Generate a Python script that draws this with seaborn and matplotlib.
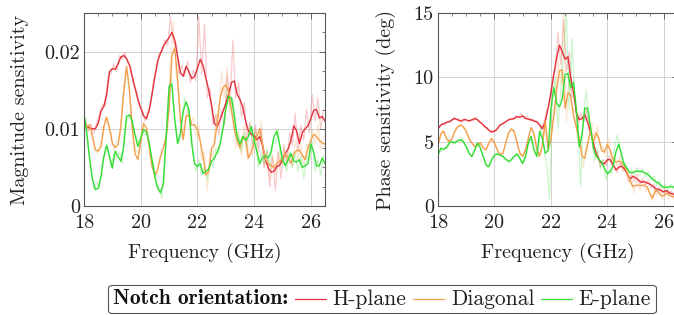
import numpy as np
import pandas as pd
import seaborn as sns
import matplotlib.pyplot as plt
from matplotlib.ticker import AutoMinorLocator
from matplotlib.offsetbox import AnchoredOffsetbox, HPacker, TextArea, DrawingArea
from matplotlib.lines import Line2D

# smoothed curves on a 0.1 GHz grid, raw traces on the offset grid
freq = np.round(np.arange(18.0, 26.55, 0.1), 2)
freq_raw = np.round(np.arange(18.05, 26.5, 0.1), 2)

orientations = ['H-plane', 'Diagonal', 'E-plane']
colors = ['#e3303a', '#f2a04c', '#33dd33']

mag_h = [0.0107, 0.0103, 0.0101, 0.0100, 0.0100, 0.0107, 0.0123, 0.0129, 0.0145, 0.0174,
         0.0178, 0.0177, 0.0184, 0.0193, 0.0195, 0.0191, 0.0183, 0.0168, 0.0153, 0.0138,
         0.0127, 0.0117, 0.0113, 0.0124, 0.0145, 0.0168, 0.0188, 0.0198, 0.0207, 0.0213,
         0.0218, 0.0225, 0.0215, 0.0194, 0.0173, 0.0168, 0.0181, 0.0174, 0.0165, 0.0168,
         0.0178, 0.0190, 0.0182, 0.0165, 0.0150, 0.0130, 0.0107, 0.0103, 0.0112, 0.0122,
         0.0133, 0.0145, 0.0160, 0.0162, 0.0145, 0.0138, 0.0128, 0.0110, 0.0097, 0.0093,
         0.0091, 0.0086, 0.0090, 0.0078, 0.0060, 0.0049, 0.0044, 0.0045, 0.0051, 0.0053,
         0.0060, 0.0068, 0.0074, 0.0085, 0.0104, 0.0097, 0.0081, 0.0095, 0.0100, 0.0104,
         0.0113, 0.0124, 0.0125, 0.0114, 0.0116, 0.0110]
mag_d = [0.0107, 0.0103, 0.0105, 0.0090, 0.0073, 0.0071, 0.0077, 0.0103, 0.0115, 0.0101,
         0.0081, 0.0076, 0.0079, 0.0103, 0.0146, 0.0181, 0.0151, 0.0103, 0.0068, 0.0060,
         0.0084, 0.0107, 0.0101, 0.0077, 0.0051, 0.0040, 0.0047, 0.0064, 0.0075, 0.0090,
         0.0125, 0.0195, 0.0205, 0.0165, 0.0112, 0.0086, 0.0116, 0.0118, 0.0105, 0.0105,
         0.0099, 0.0084, 0.0064, 0.0040, 0.0045, 0.0075, 0.0080, 0.0110, 0.0140, 0.0153,
         0.0157, 0.0148, 0.0125, 0.0100, 0.0085, 0.0075, 0.0090, 0.0088, 0.0062, 0.0070,
         0.0082, 0.0090, 0.0100, 0.0080, 0.0060, 0.0055, 0.0052, 0.0050, 0.0055, 0.0058,
         0.0062, 0.0068, 0.0062, 0.0055, 0.0068, 0.0072, 0.0072, 0.0066, 0.0060, 0.0075,
         0.0085, 0.0093, 0.0090, 0.0085, 0.0082, 0.0080]
mag_e = [0.0120, 0.0094, 0.0060, 0.0034, 0.0021, 0.0023, 0.0038, 0.0064, 0.0079, 0.0064,
         0.0049, 0.0071, 0.0064, 0.0058, 0.0077, 0.0116, 0.0118, 0.0110, 0.0092, 0.0077,
         0.0088, 0.0099, 0.0096, 0.0081, 0.0060, 0.0038, 0.0023, 0.0017, 0.0029, 0.0090,
         0.0155, 0.0158, 0.0112, 0.0081, 0.0094, 0.0123, 0.0135, 0.0125, 0.0081, 0.0055,
         0.0051, 0.0055, 0.0042, 0.0045, 0.0048, 0.0058, 0.0062, 0.0070, 0.0080, 0.0100,
         0.0125, 0.0142, 0.0140, 0.0118, 0.0090, 0.0080, 0.0090, 0.0085, 0.0090, 0.0103,
         0.0085, 0.0070, 0.0055, 0.0063, 0.0065, 0.0062, 0.0070, 0.0090, 0.0097, 0.0080,
         0.0060, 0.0052, 0.0060, 0.0068, 0.0058, 0.0057, 0.0060, 0.0050, 0.0052, 0.0055,
         0.0080, 0.0070, 0.0052, 0.0052, 0.0062, 0.0055]

mag_h_raw = [0.0112, 0.0097, 0.0106, 0.0094, 0.0108, 0.0120, 0.0131, 0.0130, 0.0168, 0.0172,
             0.0184, 0.0174, 0.0195, 0.0190, 0.0199, 0.0184, 0.0181, 0.0155, 0.0150, 0.0128,
             0.0125, 0.0110, 0.0123, 0.0130, 0.0162, 0.0174, 0.0198, 0.0199, 0.0215, 0.0208,
             0.0245, 0.0212, 0.0211, 0.0170, 0.0182, 0.0168, 0.0188, 0.0160, 0.0176, 0.0162,
             0.0245, 0.0172, 0.0235, 0.0140, 0.0152, 0.0105, 0.0118, 0.0092, 0.0125, 0.0105,
             0.0170, 0.0130, 0.0215, 0.0140, 0.0160, 0.0115, 0.0135, 0.0085, 0.0110, 0.0075,
             0.0105, 0.0070, 0.0100, 0.0050, 0.0070, 0.0025, 0.0065, 0.0020, 0.0070, 0.0035,
             0.0080, 0.0055, 0.0095, 0.0078, 0.0120, 0.0070, 0.0105, 0.0085, 0.0125, 0.0095,
             0.0145, 0.0110, 0.0140, 0.0100, 0.0125]
mag_d_raw = [0.0110, 0.0098, 0.0100, 0.0078, 0.0068, 0.0080, 0.0085, 0.0115, 0.0105, 0.0095,
             0.0072, 0.0085, 0.0088, 0.0135, 0.0175, 0.0170, 0.0128, 0.0080, 0.0070, 0.0068,
             0.0100, 0.0098, 0.0095, 0.0060, 0.0048, 0.0038, 0.0060, 0.0070, 0.0085, 0.0100,
             0.0185, 0.0240, 0.0170, 0.0145, 0.0090, 0.0110, 0.0125, 0.0105, 0.0115, 0.0090,
             0.0105, 0.0060, 0.0070, 0.0020, 0.0070, 0.0060, 0.0120, 0.0115, 0.0175, 0.0140,
             0.0180, 0.0120, 0.0135, 0.0075, 0.0095, 0.0065, 0.0105, 0.0060, 0.0080, 0.0065,
             0.0100, 0.0080, 0.0110, 0.0050, 0.0070, 0.0035, 0.0065, 0.0040, 0.0070, 0.0050,
             0.0075, 0.0055, 0.0070, 0.0050, 0.0085, 0.0060, 0.0080, 0.0050, 0.0080, 0.0070,
             0.0100, 0.0080, 0.0105, 0.0072, 0.0090]
mag_e_raw = [0.0108, 0.0080, 0.0052, 0.0022, 0.0030, 0.0024, 0.0058, 0.0068, 0.0075, 0.0050,
             0.0068, 0.0062, 0.0070, 0.0055, 0.0105, 0.0112, 0.0120, 0.0095, 0.0090, 0.0078,
             0.0098, 0.0092, 0.0095, 0.0065, 0.0055, 0.0025, 0.0026, 0.0010, 0.0060, 0.0115,
             0.0170, 0.0135, 0.0100, 0.0080, 0.0110, 0.0140, 0.0125, 0.0110, 0.0065, 0.0045,
             0.0060, 0.0040, 0.0050, 0.0035, 0.0060, 0.0050, 0.0075, 0.0068, 0.0095, 0.0105,
             0.0150, 0.0130, 0.0140, 0.0090, 0.0095, 0.0070, 0.0095, 0.0075, 0.0105, 0.0080,
             0.0095, 0.0050, 0.0070, 0.0055, 0.0075, 0.0050, 0.0085, 0.0080, 0.0100, 0.0055,
             0.0065, 0.0045, 0.0070, 0.0050, 0.0068, 0.0045, 0.0065, 0.0035, 0.0065, 0.0060,
             0.0085, 0.0045, 0.0060, 0.0040, 0.0065]

phase_h = [6.0, 6.3, 6.4, 6.5, 6.55, 6.7, 6.8, 6.7, 6.6, 6.7,
           6.7, 6.6, 6.7, 6.8, 6.7, 6.5, 6.3, 6.1, 5.9, 5.75,
           5.8, 6.0, 6.3, 6.4, 6.55, 6.7, 6.75, 6.8, 6.95, 6.9,
           7.0, 6.8, 6.75, 6.7, 6.6, 6.55, 6.3, 6.0, 6.6, 7.6,
           8.8, 10.2, 11.5, 12.5, 12.0, 11.4, 11.6, 10.0, 8.8, 7.3,
           6.7, 6.8, 7.1, 6.5, 5.8, 4.9, 4.1, 3.6, 3.3, 3.3,
           3.6, 3.6, 3.2, 2.8, 3.0, 3.1, 2.9, 2.5, 2.1, 2.3,
           2.2, 2.0, 1.85, 1.9, 1.8, 1.7, 1.55, 1.35, 1.3, 1.2,
           1.1, 1.2, 1.0, 0.95, 0.9, 0.9]
phase_d = [4.75, 5.6, 5.8, 5.25, 5.0, 5.25, 5.85, 6.15, 6.3, 6.15,
           5.8, 5.25, 4.9, 4.6, 4.75, 4.9, 4.5, 4.35, 4.9, 5.25,
           4.9, 4.35, 4.0, 4.1, 4.9, 5.65, 6.0, 5.8, 4.9, 4.1,
           3.85, 4.35, 5.25, 6.1, 5.65, 4.4, 3.9, 4.8, 6.6, 4.4,
           5.2, 7.0, 9.0, 10.5, 10.6, 7.6, 8.8, 8.6, 7.0, 6.1,
           5.2, 3.9, 3.7, 4.8, 5.9, 5.0, 5.7, 5.2, 4.3, 4.2,
           4.8, 4.3, 3.6, 3.4, 3.5, 3.4, 3.1, 2.6, 2.0, 1.5,
           1.6, 1.6, 1.6, 1.6, 1.5, 1.0, 0.6, 1.2, 1.1, 0.8,
           0.8, 1.0, 0.85, 0.7, 0.8, 0.85]
phase_e = [3.95, 4.5, 4.4, 4.55, 4.9, 5.0, 4.9, 5.1, 5.15, 5.0,
           4.6, 4.1, 3.85, 4.35, 4.9, 4.5, 3.85, 3.2, 3.05, 3.6,
           3.95, 4.05, 3.95, 3.85, 3.65, 3.45, 3.6, 3.85, 4.05, 3.7,
           3.3, 3.85, 4.9, 5.4, 4.35, 3.85, 5.8, 5.2, 4.1, 4.3,
           7.5, 9.2, 8.0, 7.7, 8.3, 10.2, 10.3, 9.2, 9.6, 7.5,
           4.6, 5.5, 7.6, 7.6, 6.2, 4.5, 3.9, 3.6, 3.4, 2.9,
           2.5, 2.7, 3.1, 4.2, 4.8, 4.0, 3.2, 2.9, 2.6, 2.6,
           2.7, 2.7, 2.7, 2.6, 2.5, 2.3, 2.1, 1.9, 1.8, 1.6,
           1.45, 1.45, 1.5, 1.5, 1.45, 1.4]

phase_h_raw = [6.1, 6.4, 6.3, 6.6, 6.5, 6.9, 6.7, 6.8, 6.5, 6.8,
               6.6, 6.7, 6.6, 6.9, 6.5, 6.5, 6.1, 6.1, 5.7, 5.9,
               5.8, 6.2, 6.3, 6.5, 6.6, 6.8, 6.7, 7.0, 6.8, 7.2,
               6.8, 7.0, 6.6, 6.8, 6.5, 6.4, 6.0, 6.4, 7.5, 7.8,
               10.0, 10.5, 13.5, 11.0, 14.5, 10.5, 12.0, 8.5, 8.5, 6.2,
               7.2, 6.5, 7.5, 5.9, 5.6, 4.2, 4.2, 3.0, 3.6, 3.1,
               3.9, 3.2, 3.2, 2.6, 3.4, 2.7, 3.0, 1.9, 2.5, 1.9,
               2.5, 1.7, 2.1, 1.6, 2.0, 1.4, 1.7, 1.1, 1.5, 1.0,
               1.3, 0.9, 1.2, 0.8, 1.0]
phase_d_raw = [5.0, 5.9, 5.5, 5.0, 5.2, 5.4, 6.1, 6.2, 6.3, 5.9,
               5.6, 5.0, 4.8, 4.7, 4.9, 4.6, 4.5, 4.6, 5.2, 5.0,
               4.7, 4.1, 4.1, 4.4, 5.4, 5.9, 5.9, 5.4, 4.5, 3.9,
               4.1, 4.9, 5.8, 5.8, 5.1, 3.8, 4.1, 6.0, 5.2, 4.5,
               6.5, 7.5, 11.5, 9.5, 15.0, 6.5, 10.5, 7.2, 7.6, 5.0,
               5.6, 3.0, 4.8, 5.0, 6.5, 4.8, 6.2, 4.5, 4.6, 3.8,
               5.3, 3.5, 3.9, 3.0, 3.9, 2.8, 3.2, 1.8, 2.2, 1.0,
               2.0, 1.2, 2.0, 1.1, 1.5, 0.4, 1.3, 0.8, 1.3, 0.5,
               1.2, 0.6, 1.1, 0.5, 1.0]
phase_e_raw = [4.2, 4.3, 4.6, 4.5, 5.1, 4.8, 5.1, 5.0, 5.3, 4.7,
               4.5, 3.9, 4.0, 4.6, 4.8, 4.2, 3.6, 3.0, 3.3, 3.8,
               4.1, 3.9, 4.0, 3.6, 3.6, 3.4, 3.8, 3.9, 4.0, 3.4,
               3.5, 4.4, 5.2, 5.0, 4.0, 4.3, 6.3, 4.5, 3.2, 0.5,
               8.5, 10.0, 6.0, 9.0, 12.0, 15.0, 7.5, 13.0, 8.0, 6.5,
               1.5, 7.0, 9.0, 6.5, 5.5, 3.5, 4.5, 2.9, 3.6, 2.0,
               2.8, 2.5, 4.5, 5.5, 4.6, 3.4, 3.3, 2.4, 2.9, 2.3,
               3.0, 2.4, 2.9, 2.3, 2.7, 2.0, 2.3, 1.6, 2.0, 1.3,
               1.7, 1.2, 1.7, 1.3, 1.6]


def long_form(x, series):
    frames = [pd.DataFrame({'freq': x, 'value': vals, 'orientation': name})
              for name, vals in zip(orientations, series)]
    return pd.concat(frames, ignore_index=True)


sns.set_theme(style='white')
plt.rcParams['font.family'] = 'cmr10'
plt.rcParams['mathtext.fontset'] = 'cm'
plt.rcParams['axes.formatter.use_mathtext'] = True

FS = 14.5
fig = plt.figure(figsize=(6.74, 3.15), dpi=100)
W, H = 674, 315
ax1 = fig.add_axes([84 / W, 1 - 206 / H, 241 / W, 193 / H])
ax2 = fig.add_axes([438 / W, 1 - 206 / H, 240 / W, 193 / H])

palette = dict(zip(orientations, colors))
panels = [
    (ax1, [mag_h, mag_d, mag_e], [mag_h_raw, mag_d_raw, mag_e_raw],
     (0, 0.025), [0, 0.01, 0.02], ['0', '0.01', '0.02'], 'Magnitude sensitivity', 11),
    (ax2, [phase_h, phase_d, phase_e], [phase_h_raw, phase_d_raw, phase_e_raw],
     (0, 15), [0, 5, 10, 15], ['0', '5', '10', '15'], 'Phase sensitivity (deg)', 12.5),
]

for ax, smooth, raw, ylim, yt, ytl, ylab, lpad in panels:
    sns.lineplot(data=long_form(freq_raw, raw), x='freq', y='value', hue='orientation',
                 palette=palette, alpha=0.25, lw=0.9, legend=False, ax=ax)
    sns.lineplot(data=long_form(freq, smooth), x='freq', y='value', hue='orientation',
                 palette=palette, lw=1.0, legend=False, ax=ax)
    ax.set_xlim(18, 26.5)
    ax.set_ylim(*ylim)
    ax.set_xticks([18, 20, 22, 24, 26])
    ax.set_xticklabels(['18', '20', '22', '24', '26'])
    ax.set_yticks(yt)
    ax.set_yticklabels(ytl)
    ax.xaxis.set_minor_locator(AutoMinorLocator(4))
    ax.yaxis.set_minor_locator(AutoMinorLocator(4))
    ax.tick_params(which='both', direction='in', top=True, right=True,
                   color='#555555', labelsize=FS, labelcolor='#222222')
    ax.tick_params(which='major', length=4, width=0.6)
    ax.tick_params(axis='x', which='major', pad=6)
    ax.tick_params(axis='y', which='major', pad=3)
    ax.tick_params(which='minor', length=2, width=0.5)
    ax.grid(True, which='major', color='#cccccc', lw=0.6)
    ax.set_axisbelow(True)
    for s in ax.spines.values():
        s.set_color('#555555')
        s.set_linewidth(0.8)
    ax.set_xlabel('Frequency (GHz)', fontsize=FS, color='#222222', labelpad=8)
    ax.set_ylabel(ylab, fontsize=FS, color='#222222', labelpad=lpad)

# legend in one row, bold title first
LFS = 15.5
items = [TextArea('Notch orientation:', textprops=dict(family='cmb10', size=LFS, color='#111111'))]
for name, col in zip(orientations, colors):
    da = DrawingArea(22, 8, 0, 0)
    da.add_artist(Line2D([0, 22], [4, 4], color=col, lw=0.9))
    items.append(da)
    items.append(TextArea(name, textprops=dict(size=LFS, color='#222222')))
row = HPacker(children=items, align='center', pad=0, sep=5)
leg = AnchoredOffsetbox(loc='center', child=row, pad=0.3, borderpad=0, frameon=True,
                        bbox_to_anchor=(382 / W, 1 - 299 / H), bbox_transform=fig.transFigure)
leg.patch.set_boxstyle('round,pad=0,rounding_size=0.25')
leg.patch.set_edgecolor('#555555')
leg.patch.set_linewidth(0.8)
fig.add_artist(leg)

fig.savefig('out.png', dpi=100)
